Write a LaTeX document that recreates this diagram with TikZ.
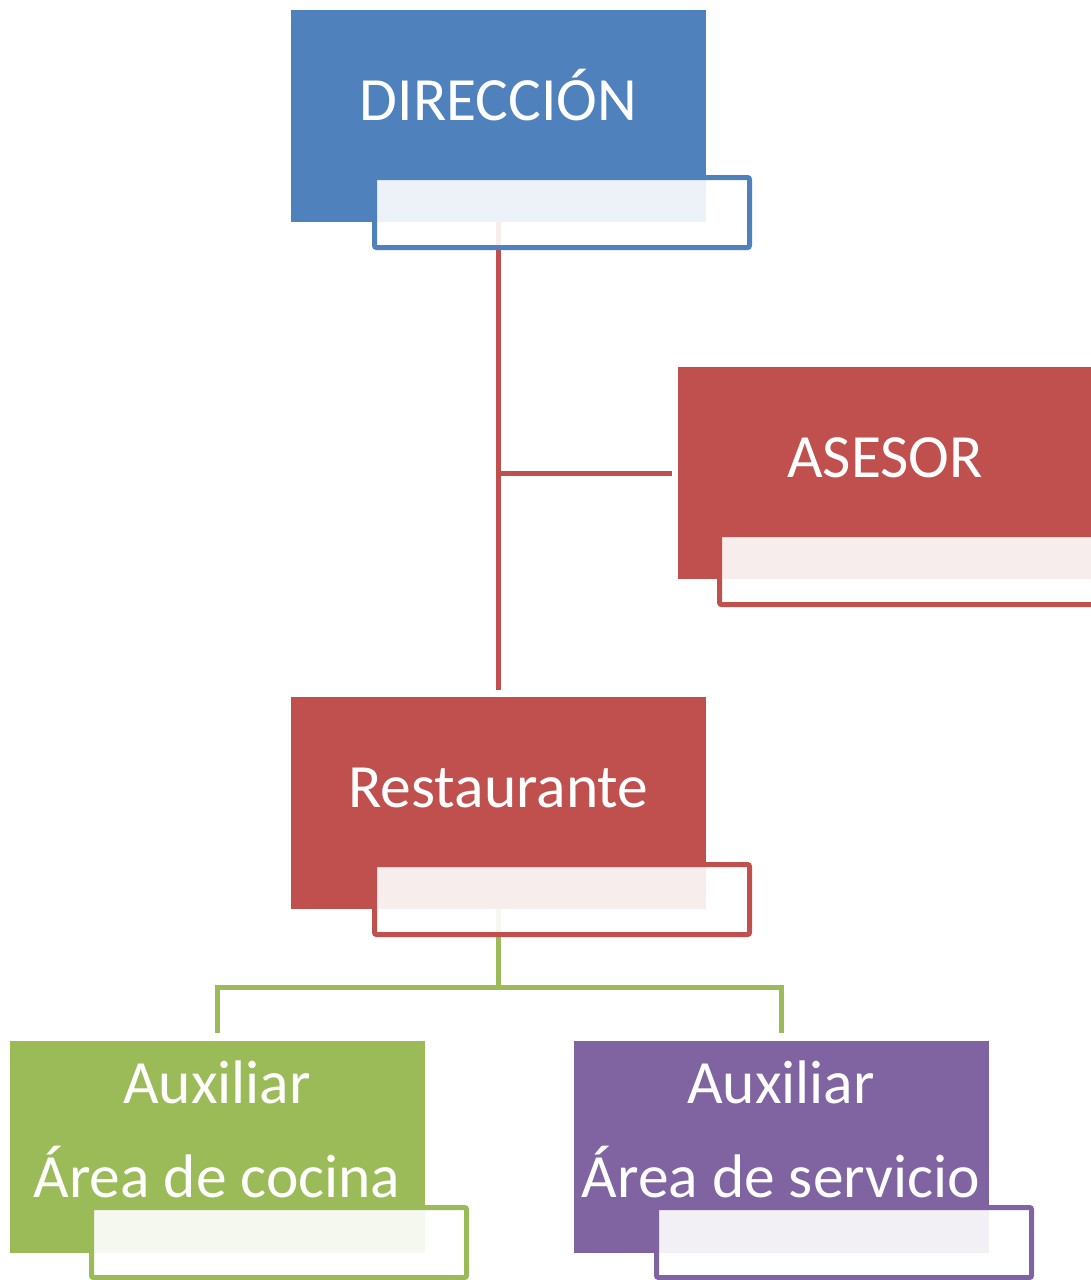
\documentclass[tikz,border=0pt]{standalone}
\usepackage{fontspec}
\setmainfont{Carlito}
\definecolor{cblue}{HTML}{4F81BD}
\definecolor{cred}{HTML}{C0504D}
\definecolor{cgreen}{HTML}{9BBB59}
\definecolor{cpurple}{HTML}{8064A2}
\begin{document}
\begin{tikzpicture}[x=1pt,y=-1pt,
  box/.style={fill=#1, draw=none, minimum width=415pt, minimum height=212pt, inner sep=0pt, outer sep=0pt, anchor=north west},
  subbox/.style={draw=#1, line width=5pt, fill=white, fill opacity=0.9, rounded corners=2pt, minimum width=375pt, minimum height=70pt, inner sep=0pt, anchor=north west},
  lbl/.style={text=white, font=\fontsize{61.5}{74}\selectfont, anchor=base, inner sep=0pt},
  conn/.style={line width=5pt}]
\useasboundingbox (0,0) rectangle (1091,1280);
\clip (0,0) rectangle (1091,1280);
% main boxes
\node[box=cblue] (dir) at (291,10) {};
\node[box=cred] (ase) at (678,367) {};
\node[box=cred] (rest) at (291,697) {};
\node[box=cgreen] (auxl) at (10,1041) {};
\node[box=cpurple] (auxr) at (574,1041) {};
% connectors
\coordinate (bus) at (498.5,987);
\draw[conn, cred, shorten >=7pt] (dir.south) -- (rest.north);
\draw[conn, cred] (dir.south |- ase.west) -- ([xshift=-6pt]ase.west);
\draw[conn, cgreen] (rest.south) -- (bus);
\draw[conn, cgreen] ([yshift=8pt]auxl.north) |- (bus) -| ([yshift=8pt]auxr.north);
% sub boxes
\node[subbox=cblue] (dirs) at (372,175) {};
\node[subbox=cred] (ases) at (717,532) {};
\node[subbox=cred] (rests) at (372,862) {};
\node[subbox=cgreen] (auxls) at (89,1205) {};
\node[subbox=cpurple] (auxrs) at (654,1205) {};
% labels
\node[lbl] (dirt) at (498.5,120) {DIRECCIÓN};
\node[lbl] (aset) at (885,477) {ASESOR};
\node[lbl] (restt) at (498.5,807) {Restaurante};
\node[lbl] (auxlt1) at (217,1103) {Auxiliar};
\node[lbl] (auxlt2) at (217,1197) {Área de cocina};
\node[lbl] (auxrt1) at (781,1103) {Auxiliar};
\node[lbl] (auxrt2) at (781,1197) {Área de servicio};
\end{tikzpicture}
\end{document}
